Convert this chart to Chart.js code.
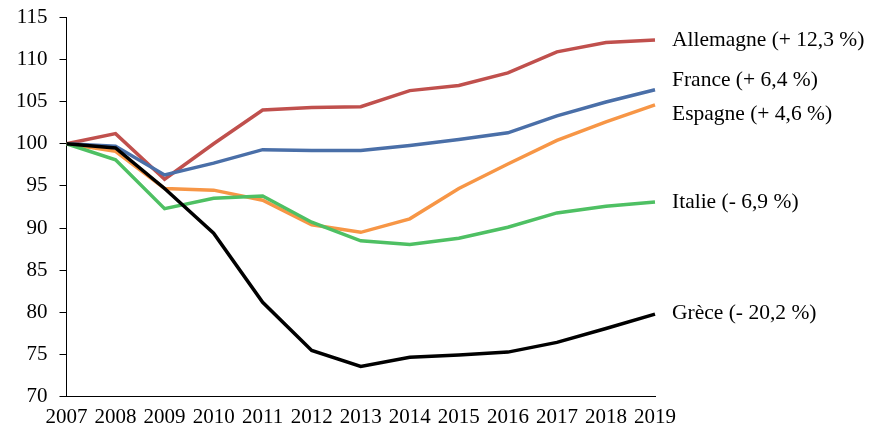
<!DOCTYPE html>
<html><head><meta charset="utf-8">
<script src="https://cdn.jsdelivr.net/npm/chart.js@4/dist/chart.umd.min.js"></script>
<style>html,body{margin:0;padding:0;background:#fff}#wrap{width:882px;height:441px}</style>
</head><body><div id="wrap"><canvas id="c" width="882" height="441"></canvas></div>
<script>
const years = ['2007','2008','2009','2010','2011','2012','2013','2014','2015','2016','2017','2018','2019'];
const allemagne = [100,101.2,95.8,100.0,104.0,104.3,104.4,106.3,106.9,108.4,110.9,112.0,112.3];
const france    = [100,99.7,96.3,97.7,99.3,99.2,99.2,99.8,100.5,101.3,103.3,104.95,106.4];
const espagne   = [100,99.1,94.7,94.5,93.3,90.4,89.5,91.1,94.7,97.6,100.4,102.6,104.6];
const italie    = [100,98.1,92.3,93.55,93.8,90.7,88.5,88.05,88.8,90.1,91.8,92.6,93.1];
const grece     = [100,99.5,94.7,89.4,81.2,75.5,73.6,74.7,74.95,75.3,76.45,78.1,79.8];
const seriesNames = ['Allemagne (+ 12,3 %)','France (+ 6,4 %)','Espagne (+ 4,6 %)','Italie (- 6,9 %)','Grèce (- 20,2 %)'];
const FONT = '"Liberation Serif", "DejaVu Serif", serif';

const endLabels = {
  id: 'endLabels',
  afterDatasetsDraw(chart, args, opts) {
    const ctx = chart.ctx;
    const ys = chart.scales.y;
    ctx.save();
    ctx.font = '21.5px ' + FONT;
    ctx.fillStyle = '#000';
    ctx.textBaseline = 'middle';
    ctx.textAlign = 'left';
    chart.data.datasets.forEach((ds, i) => {
      const v = ds.data[ds.data.length - 1];
      const y = ys.getPixelForValue(v) + (opts.nudge[i] || 0);
      ctx.fillText(ds.label, chart.chartArea.right + 17, y);
    });
    ctx.restore();
  }
};

const mk = (label, data, color) => ({label, data, borderColor: color, backgroundColor: color, borderWidth: 3.5, pointRadius: 0, tension: 0, fill: false});

new Chart(document.getElementById('c'), {
  type: 'line',
  data: {
    labels: years,
    datasets: [
      mk(seriesNames[4], grece, '#000000'),
      mk(seriesNames[3], italie, '#4EC063'),
      mk(seriesNames[2], espagne, '#F79646'),
      mk(seriesNames[1], france, '#4A6FA8'),
      mk(seriesNames[0], allemagne, '#C0504D')
    ]
  },
  options: {
    responsive: false,
    animation: false,
    layout: {autoPadding: false, padding: {left: 4, right: 227, top: 17, bottom: 3}},
    plugins: {
      legend: {display: false},
      tooltip: {enabled: false},
      endLabels: {nudge: [-1, 0, 9, -9, 0]}
    },
    scales: {
      x: {
        type: 'category',
        offset: false,
        grid: {display: true, drawOnChartArea: false, drawTicks: false},
        border: {display: true, color: '#000', width: 1},
        ticks: {color: '#000', font: {family: FONT, size: 21}, padding: 8, maxRotation: 0, autoSkip: false}
      },
      y: {
        min: 70, max: 115,
        grid: {display: true, drawOnChartArea: false, drawTicks: true, tickLength: 7, color: '#000'},
        border: {display: true, color: '#000', width: 1},
        ticks: {stepSize: 5, color: '#000', font: {family: FONT, size: 21, lineHeight: 0.5}, padding: 12}
      }
    }
  },
  plugins: [endLabels]
});
</script>
</body></html>
